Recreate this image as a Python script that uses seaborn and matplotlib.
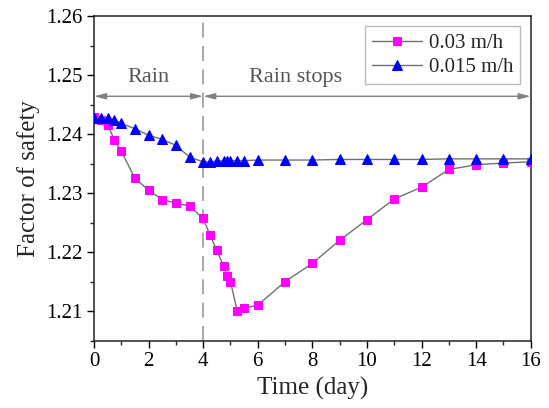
import matplotlib
matplotlib.use("Agg")
import matplotlib.pyplot as plt
import seaborn as sns
from matplotlib.ticker import MultipleLocator

# Data
time_day = [0, 0.25, 0.5, 0.75, 1, 1.5, 2, 2.5, 3, 3.5, 4, 4.25, 4.5, 4.75, 4.875,
            5, 5.25, 5.5, 6, 7, 8, 9, 10, 11, 12, 13, 14, 15, 16]
fos_003 = [1.2429, 1.2423, 1.2416, 1.2390, 1.2371, 1.2325, 1.2305, 1.2289, 1.2283,
           1.2278, 1.2257, 1.2229, 1.2203, 1.2176, 1.2160, 1.2150, 1.2100, 1.2105,
           1.2110, 1.2150, 1.2181, 1.2220, 1.2255, 1.2290, 1.2310, 1.2340, 1.2348,
           1.2351, 1.2353]
fos_0015 = [1.2428, 1.2428, 1.2427, 1.2424, 1.2418, 1.2409, 1.2398, 1.2391, 1.2381,
            1.2361, 1.2353, 1.2353, 1.2354, 1.2355, 1.2355, 1.2355, 1.2355, 1.2355,
            1.2356, 1.2356, 1.2356, 1.2357, 1.2357, 1.2357, 1.2357, 1.2358, 1.2358,
            1.2358, 1.2358]
series_labels = ["0.03 m/h", "0.015 m/h"]
x_ticks = [0, 2, 4, 6, 8, 10, 12, 14, 16]
y_ticks = [1.21, 1.22, 1.23, 1.24, 1.25, 1.26]

sns.set_style("ticks")
plt.rcParams["font.family"] = ["Liberation Serif", "DejaVu Serif"]
plt.rcParams["mathtext.fontset"] = "stix"

fig = plt.figure(figsize=(5.49, 4.08), dpi=100)
ax = fig.add_axes([0.1712, 0.165, 0.7955, 0.7958])

line_grey = "#707070"
sns.lineplot(x=time_day, y=fos_003, ax=ax, sort=False, color=line_grey, lw=1,
             marker="s", markersize=5.5, markerfacecolor="#ff00ff",
             markeredgecolor="#ff00ff", label=series_labels[0], zorder=3)
sns.lineplot(x=time_day, y=fos_0015, ax=ax, sort=False, color=line_grey, lw=1,
             marker="^", markersize=6.5, markerfacecolor="#0000ff",
             markeredgecolor="#0000ff", label=series_labels[1], zorder=4)

ax.set_xlim(0, 16)
ax.set_ylim(1.205, 1.26)
ax.set_xticks(x_ticks)
ax.set_yticks(y_ticks)
ax.xaxis.set_minor_locator(MultipleLocator(1))
ax.yaxis.set_minor_locator(MultipleLocator(0.005))
ax.set_yticklabels([f"{v:.2f}" for v in y_ticks])
ax.tick_params(which="major", direction="out", length=5, width=1, labelsize=15,
               colors="black")
ax.tick_params(which="minor", direction="out", length=3, width=1)
for s in ax.spines.values():
    s.set_color("#222222")
    s.set_linewidth(1.1)

ax.set_xlabel("Time (day)", fontsize=18)
ax.set_ylabel("Factor of safety", fontsize=18)

# rain period annotations
ax.axvline(4, color="#999999", lw=1.2, ls=(0, (9, 5)), zorder=1)
arrow_kw = dict(arrowstyle="<|-|>,head_length=0.7,head_width=0.18", color="#808080",
                lw=1, shrinkA=0, shrinkB=0)
ax.annotate("", xy=(0, 1.2464), xytext=(4, 1.2464), arrowprops=arrow_kw)
ax.annotate("", xy=(4, 1.2464), xytext=(16, 1.2464), arrowprops=arrow_kw)
ax.text(2, 1.2496, "Rain", ha="center", va="center", fontsize=16, color="#555555")
ax.text(7.4, 1.2496, "Rain stops", ha="center", va="center", fontsize=16,
        color="#555555")

leg = ax.legend(loc="upper right", fontsize=15, frameon=True, fancybox=False,
                borderaxespad=0.5, handlelength=2.4, handletextpad=0.3,
                borderpad=0.35, labelspacing=0.2)
leg.get_frame().set_edgecolor("#aaaaaa")
leg.get_frame().set_linewidth(1)

fig.savefig("out.png", dpi=100)
